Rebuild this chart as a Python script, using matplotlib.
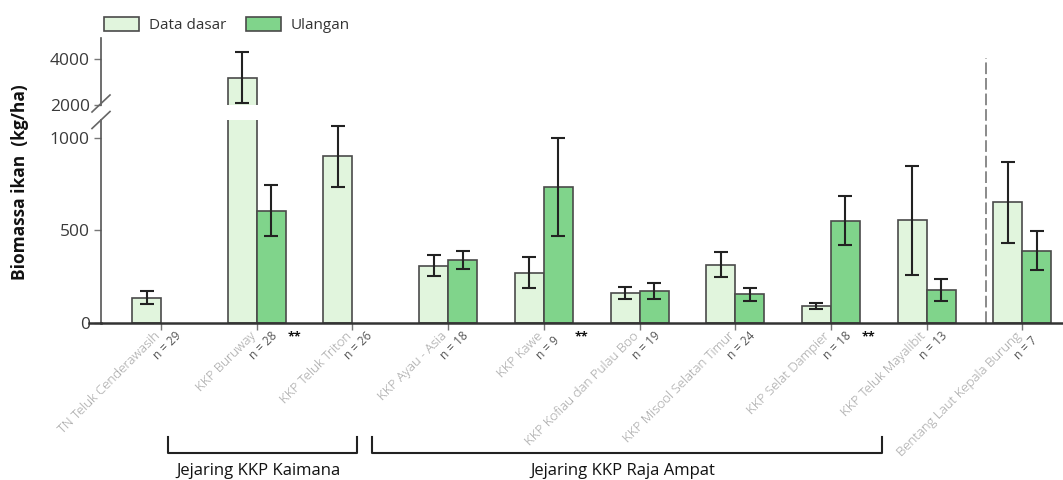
import numpy as np
import matplotlib
matplotlib.use("Agg")
import matplotlib.pyplot as plt
from matplotlib.patches import Patch
from matplotlib.lines import Line2D
from matplotlib.transforms import offset_copy

plt.rcParams['font.family'] = ['Open Sans', 'DejaVu Sans']

# ---------------- data ----------------
categories = ["TN Teluk Cenderawasih", "KKP Buruway", "KKP Teluk Triton",
              "KKP Ayau - Asia", "KKP Kawe", "KKP Kofiau dan Pulau Boo",
              "KKP Misool Selatan Timur", "KKP Selat Dampier",
              "KKP Teluk Mayalibit", "Bentang Laut Kepala Burung"]
baseline = [136, 3190, 900, 310, 272, 163, 315, 92, 555, 652]
baseline_err = [35, 1110, 166, 57, 84, 33, 68, 17, 296, 218]
repeat = [np.nan, 607, np.nan, 342, 735, 174, 155, 552, 179, 391]
repeat_err = [np.nan, 139, np.nan, 49, 265, 44, 35, 133, 60, 104]
n_labels = ["n = 29", "n = 28", "n = 26", "n = 18", "n = 9",
            "n = 19", "n = 24", "n = 18", "n = 13", "n = 7"]
significant = [False, True, False, False, True, False, False, True, False, False]
series_names = ["Data dasar", "Ulangan"]
group_names = ["Jejaring KKP Kaimana", "Jejaring KKP Raja Ampat"]
lower_ticks = [0, 500, 1000]
upper_ticks = [2000, 4000]

# ---------------- style ----------------
c_base = "#e1f5dd"
c_rep = "#80d48b"
edge = "#4a4a4a"
W, H = 1063, 480
fig = plt.figure(figsize=(W / 100, H / 100), dpi=100)

left_px, right_px = 101, 1063
zero_px, low_top_px = 323, 120
up_bot_px, up_top_px = 105, 38
xmin, xmax = -0.627, 9.425
ax = fig.add_axes([left_px / W, 1 - zero_px / H, (right_px - left_px) / W,
                   (zero_px - low_top_px) / H])
axu = fig.add_axes([left_px / W, 1 - up_bot_px / H, (right_px - left_px) / W,
                    (up_bot_px - up_top_px) / H])
axu.patch.set_visible(False)

x = np.arange(len(categories))
w = 0.303
for a in (ax, axu):
    a.bar(x - w / 2, baseline, w, color=c_base, edgecolor=edge, linewidth=1.2, zorder=2)
    a.bar(x + w / 2, repeat, w, color=c_rep, edgecolor=edge, linewidth=1.2, zorder=2)
    a.errorbar(x - w / 2, baseline, yerr=baseline_err, fmt='none', ecolor='#222222',
               elinewidth=1.5, capsize=4.7, capthick=1.5, zorder=3)
    a.errorbar(x + w / 2, repeat, yerr=repeat_err, fmt='none', ecolor='#222222',
               elinewidth=1.5, capsize=4.7, capthick=1.5, zorder=3)
    a.set_xlim(xmin, xmax)
    for s in ('top', 'right'):
        a.spines[s].set_visible(False)
    a.spines['left'].set_color('#555555')
    a.spines['left'].set_linewidth(1.2)
    a.tick_params(axis='y', direction='out', length=5, width=1, color='#777777',
                  labelsize=12.5, labelcolor='#3a3a3a', pad=3)

ax.set_ylim(0, 1097)
axu.set_ylim(2000, 4913)
ax.set_yticks(lower_ticks)
axu.set_yticks(upper_ticks)
ax.spines['bottom'].set_color('#333333')
ax.spines['bottom'].set_linewidth(1.8)
ax.set_xticks(x)
ax.set_xticklabels([])
ax.tick_params(axis='x', direction='out', length=5, width=1, color='#777777')
axu.spines['bottom'].set_visible(False)
axu.set_xticks([])

# bottom line extension left of spine
fig.add_artist(Line2D([89 / W, left_px / W], [1 - zero_px / H] * 2,
                      color='#333333', lw=1.8))

# break marks
for yb in (103.5, 120):
    fig.add_artist(Line2D([92 / W, 110 / W], [1 - (yb + 8.5) / H, 1 - (yb - 8.5) / H],
                          color='#666666', lw=1.2))

# dashed separator
ax.plot([8.62, 8.62], [0, 1432], ls=(0, (6, 2)), color='#8a8a8a', lw=1.4,
        clip_on=False, zorder=1)

# category labels, n labels, significance stars
tx = ax.get_xaxis_transform()
for i, (cat, nl, sig) in enumerate(zip(categories, n_labels, significant)):
    ax.text(i, 0, cat, transform=offset_copy(tx, fig, x=-3, y=-11, units='dots'),
            rotation=45, rotation_mode='anchor', ha='right', va='center',
            fontsize=9.5, fontweight='light', color='#9a9a9a')
    ax.text(i, 0, nl, transform=offset_copy(tx, fig, x=-3, y=-37, units='dots'),
            rotation=45, rotation_mode='anchor', ha='left', va='baseline',
            fontsize=8.5, color='#555555')
    if sig:
        ax.text(i, 0, "**", transform=offset_copy(tx, fig, x=38, y=-14, units='dots'),
                ha='center', va='center', fontsize=9, fontweight='bold', color='#111111')

# group brackets
spans = [(0.07, 2.05), (2.2, 7.53)]
for (x0, x1), name in zip(spans, group_names):
    b_top = 1 - 437 / H
    b_bot = 1 - 453 / H
    fx0 = (left_px + (x0 - xmin) / (xmax - xmin) * (right_px - left_px)) / W
    fx1 = (left_px + (x1 - xmin) / (xmax - xmin) * (right_px - left_px)) / W
    fig.add_artist(Line2D([fx0, fx0, fx1, fx1], [b_top, b_bot, b_bot, b_top],
                          color='#222222', lw=1.5))
    fig.text((fx0 + fx1) / 2 - 0.004, 1 - 471 / H, name, ha='center', va='center',
             fontsize=12, color='#111111')

# y label
fig.text(20 / W, 1 - 182 / H, "Biomassa ikan  (kg/ha)", rotation=90,
         ha='center', va='center', fontsize=12.5, fontweight='bold', color='#111111')

# legend
handles = [Patch(facecolor=c_base, edgecolor=edge, lw=1.2),
           Patch(facecolor=c_rep, edgecolor=edge, lw=1.2)]
fig.legend(handles, series_names, loc='upper left', ncol=2,
           bbox_to_anchor=(104 / W, 1 - 17 / H), frameon=False,
           fontsize=11, handlelength=2.3, handleheight=1.0, handletextpad=0.65,
           columnspacing=1.25, borderpad=0, borderaxespad=0, labelcolor='#333333')

fig.savefig("out.png", dpi=100)
